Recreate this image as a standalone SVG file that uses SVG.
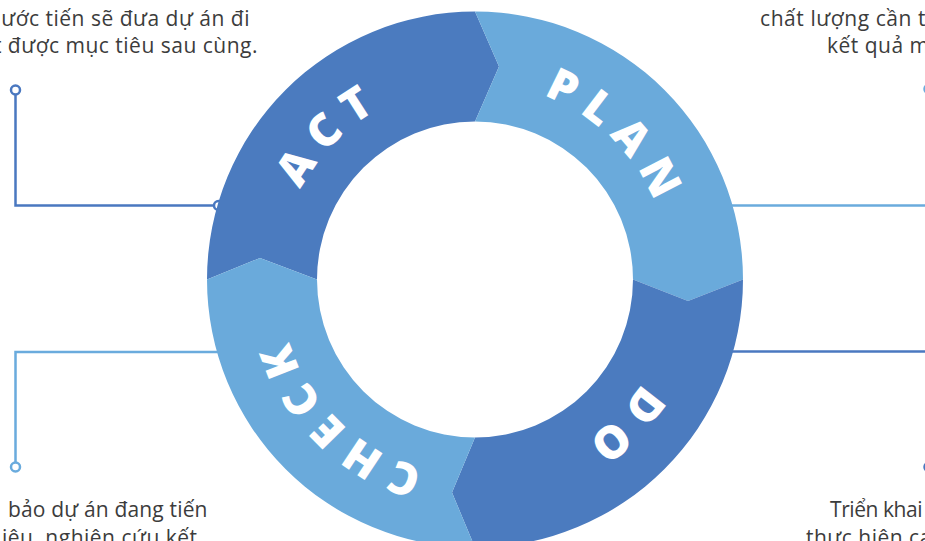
<svg xmlns="http://www.w3.org/2000/svg" xmlns:xlink="http://www.w3.org/1999/xlink" width="925" height="541" viewBox="0 0 925 541">
<style>
.dark{fill:#4b7bbf}
.light{fill:#6aaadb}
.lbl{font-family:"Open Sans","DejaVu Sans",sans-serif;font-weight:800;font-size:45px;fill:#ffffff;letter-spacing:11px}
.para{font-family:"Open Sans","Noto Sans","Liberation Sans",sans-serif;font-size:21px;letter-spacing:0.5px;fill:#3c3c3c}
.cd{stroke:#4a78c0;stroke-width:2.5;fill:none}
.cl{stroke:#6aabdd;stroke-width:2.5;fill:none}
.dotd{stroke:#4a78c0;stroke-width:2.5;fill:#ffffff}
.dotl{stroke:#6aabdd;stroke-width:2.5;fill:#ffffff}
</style>
<defs>
<path id="tp" d="M279 279.5 A196 196 0 0 1 671 279.5 A196 196 0 0 1 279 279.5"/>
</defs>
<rect width="925" height="541" fill="#ffffff"/>
<g id="texts">
<text class="para" x="250" y="26" text-anchor="end">ước tiến sẽ đưa dự án đi</text>
<text class="para" x="258" y="53" text-anchor="end">t được mục tiêu sau cùng.</text>
<text class="para" x="760" y="26" textLength="166" lengthAdjust="spacing">chất lượng cần t</text>
<text class="para" x="827" y="53">kết quả m</text>
<text class="para" x="8" y="517" textLength="200" lengthAdjust="spacing">bảo dự án đang tiến</text>
<text class="para" x="2" y="545">iêu, nghiên cứu kết</text>
<text class="para" x="830" y="517" textLength="93" lengthAdjust="spacing">Triển khai</text>
<text class="para" x="806" y="545">thực hiện ca</text>
</g>
<g id="connectors">
<polyline class="cd" points="15.5,94.5 15.5,205.5 214,205.5"/>
<circle class="dotd" cx="15.5" cy="90" r="4.5"/>
<circle class="dotd" cx="218.5" cy="205.5" r="4.5"/>
<polyline class="cl" points="15.5,462.5 15.5,352 240,352"/>
<circle class="dotl" cx="15.5" cy="467" r="4.5"/>
<line class="cl" x1="710" y1="205.5" x2="925" y2="205.5"/>
<circle class="dotl" cx="929" cy="89" r="4.5"/>
<line class="cd" x1="710" y1="351.5" x2="925" y2="351.5"/>
<circle class="dotd" cx="929" cy="467" r="4.5"/>
</g>
<g id="act">
<path class="dark" d="M207 279.5 A268 268 0 0 1 475 11.5 L499 66.5 L475 121.5 A158 158 0 0 0 317 279.5 L260 258 Z"/>
<text class="lbl"><textPath xlink:href="#tp" href="#tp" startOffset="12.5%" text-anchor="middle">ACT</textPath></text>
</g>
<g id="plan">
<path class="light" d="M475 11.5 A268 268 0 0 1 743 279.5 L688 301 L633 279.5 A158 158 0 0 0 475 121.5 L499 66.5 Z"/>
<text class="lbl"><textPath xlink:href="#tp" href="#tp" startOffset="37.5%" text-anchor="middle">PLAN</textPath></text>
</g>
<g id="do">
<path class="dark" d="M743 279.5 A268 268 0 0 1 475 547.5 L452 492.5 L475 437.5 A158 158 0 0 0 633 279.5 L688 301 Z"/>
<text class="lbl"><textPath xlink:href="#tp" href="#tp" startOffset="62.5%" text-anchor="middle">DO</textPath></text>
</g>
<g id="check">
<path class="light" d="M475 547.5 A268 268 0 0 1 207 279.5 L260 258 L317 279.5 A158 158 0 0 0 475 437.5 L452 492.5 Z"/>
<text class="lbl"><textPath xlink:href="#tp" href="#tp" startOffset="87.5%" text-anchor="middle">CHECK</textPath></text>
</g>
</svg>
